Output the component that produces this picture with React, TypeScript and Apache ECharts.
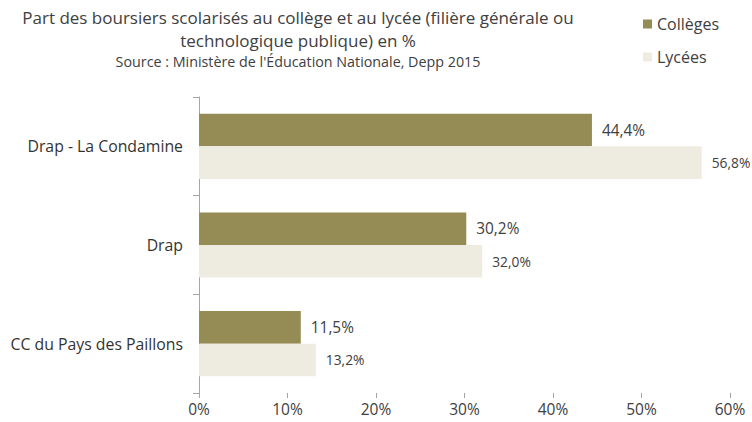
import React, { useEffect, useRef } from "react";
import * as echarts from "echarts";

const categories = ["Drap - La Condamine", "Drap", "CC du Pays des Paillons"];
const colleges = [44.4, 30.2, 11.5];
const lycees = [56.8, 32.0, 13.2];
const seriesNames = ["Collèges", "Lycées"];
const titleText = "Part des boursiers scolarisés au collège et au lycée (filière générale ou\ntechnologique publique) en %";
const subtitleText = "Source : Ministère de l'Éducation Nationale, Depp 2015";

const fmt = (v: number) => v.toFixed(1).replace(".", ",") + "%";

export default function App() {
  const ref = useRef<HTMLDivElement>(null);
  useEffect(() => {
    if (!ref.current) return;
    const chart = echarts.init(ref.current, undefined, { renderer: "svg" });
    const font = "'Open Sans', sans-serif";
    chart.setOption({
      animation: false,
      textStyle: { fontFamily: font },
      title: {
        text: titleText,
        subtext: subtitleText,
        left: 293,
        textAlign: "center",
        top: 1,
        itemGap: 2,
        textStyle: { fontFamily: font, fontSize: 17, fontWeight: "normal", color: "#404040", lineHeight: 23 },
        subtextStyle: { fontFamily: font, fontSize: 14.3, color: "#404040" },
      },
      legend: {
        orient: "vertical",
        left: 638,
        top: 10,
        itemWidth: 9,
        itemHeight: 9,
        itemGap: 15,
        icon: "rect",
        textStyle: { fontFamily: font, fontSize: 16, lineHeight: 18, color: "#404040" },
        data: seriesNames,
      },
      grid: { left: 199, right: 22, top: 97, bottom: 29, containLabel: false },
      xAxis: {
        type: "value",
        min: 0,
        max: 60,
        interval: 10,
        axisLine: { show: false },
        axisTick: { show: true, length: 5, lineStyle: { color: "#a6a6a6" } },
        splitLine: { show: false },
        axisLabel: { formatter: "{value}%", fontSize: 15.5, color: "#404040", margin: 8, fontFamily: font },
      },
      yAxis: {
        type: "category",
        data: categories,
        inverse: true,
        axisLine: { show: true, lineStyle: { color: "#a6a6a6" } },
        axisTick: { show: true, length: 6, lineStyle: { color: "#a6a6a6" } },
        axisLabel: { fontSize: 15.8, color: "#333333", margin: 16, fontFamily: font },
      },
      series: [
        {
          name: seriesNames[0],
          type: "bar",
          data: colleges,
          barGap: "0%",
          barCategoryGap: "34%",
          itemStyle: { color: "#958b54" },
          label: {
            show: true,
            position: "right",
            distance: 10,
            fontSize: 15.4,
            color: "#404040",
            fontFamily: font,
            formatter: (p: any) => fmt(p.value),
          },
        },
        {
          name: seriesNames[1],
          type: "bar",
          data: lycees,
          barGap: "0%",
          barCategoryGap: "34%",
          itemStyle: { color: "#eeebe1" },
          label: {
            show: true,
            position: "right",
            distance: 10,
            fontSize: 13.8,
            color: "#404040",
            fontFamily: font,
            formatter: (p: any) => fmt(p.value),
          },
        },
      ],
    });
    return () => chart.dispose();
  }, []);
  return <div ref={ref} style={{ width: 752, height: 422, position: "absolute", left: 0, top: 0 }} />;
}
